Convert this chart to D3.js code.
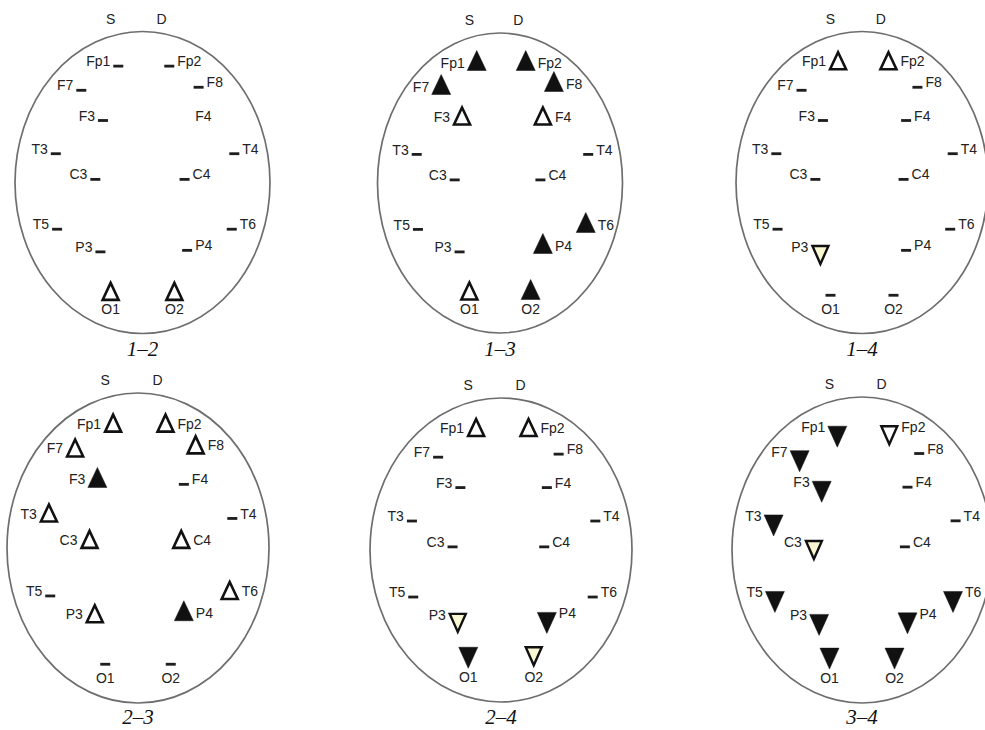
<!DOCTYPE html>
<html>
<head>
<meta charset="utf-8">
<script src="https://cdn.jsdelivr.net/npm/d3@7/dist/d3.min.js"></script>
<style>
  body { margin: 0; background: #ffffff; }
  svg { display: block; }
</style>
</head>
<body>
<div id="chart"></div>
<script>
// Electrode sites and their normalized place on the head outline.
const electrodes = ["Fp1", "Fp2", "F7", "F8", "F3", "F4", "T3", "T4", "C3", "C4", "T5", "T6", "P3", "P4", "O1", "O2"];
const electrodeX = [-0.19, 0.21, -0.48, 0.44, -0.31, 0.35, -0.68, 0.72, -0.37, 0.33, -0.67, 0.70, -0.33, 0.35, -0.25, 0.25];
const electrodeY = [-0.77, -0.77, -0.61, -0.63, -0.41, -0.41, -0.19, -0.19, -0.02, -0.02, 0.31, 0.31, 0.46, 0.45, 0.87, 0.87];

// Pairwise comparisons, one head per comparison.
// "-" no change, "o" open up, "u" filled up, "d" filled down, "y" pale down, "w" open down, "" nothing
const comparisons = ["1–2", "1–3", "1–4", "2–3", "2–4", "3–4"];
const marks12 = ["-", "-", "-", "-", "-", "", "-", "-", "-", "-", "-", "-", "-", "-", "o", "o"];
const marks13 = ["u", "u", "u", "u", "o", "o", "-", "-", "-", "-", "-", "u", "-", "u", "o", "u"];
const marks14 = ["o", "o", "-", "-", "-", "-", "-", "-", "-", "-", "-", "-", "y", "-", "-", "-"];
const marks23 = ["o", "o", "o", "o", "u", "-", "o", "-", "o", "o", "-", "o", "o", "u", "-", "-"];
const marks24 = ["o", "o", "-", "-", "-", "-", "-", "-", "-", "-", "-", "-", "y", "d", "d", "y"];
const marks34 = ["d", "w", "d", "-", "d", "-", "d", "-", "y", "-", "d", "d", "d", "d", "d", "d"];
const panelMarks = [marks12, marks13, marks14, marks23, marks24, marks34];

const WIDTH = 985;
const HEIGHT = 730;

const panels = [
    { cx: 142.5, cy: 182.5, rx: 127.5, ry: 151, titleY: 356 },
    { cx: 500, cy: 183, rx: 122.5, ry: 150, titleY: 356 },
    { cx: 862, cy: 182.5, rx: 126, ry: 151, titleY: 356 },
    { cx: 138, cy: 548, rx: 131, ry: 155, titleY: 724 },
    { cx: 501, cy: 550, rx: 131, ry: 152, titleY: 724 },
    { cx: 862, cy: 550, rx: 130, ry: 153, titleY: 724 }
];

const sideOf = name => name.startsWith("O") ? "bottom" : (+name.slice(-1) % 2 ? "left" : "right");

const triangle = d3.line();

const svg = d3.select("#chart")
    .append("svg")
    .attr("width", WIDTH)
    .attr("height", HEIGHT)
    .attr("viewBox", `0 0 ${WIDTH} ${HEIGHT}`);

const drawHead = (layout, marks, title) => {
    const x = d3.scaleLinear().domain([-1, 1]).range([layout.cx - layout.rx, layout.cx + layout.rx]);
    const y = d3.scaleLinear().domain([-1, 1]).range([layout.cy - layout.ry, layout.cy + layout.ry]);

    const g = svg.append("g");

    g.append("ellipse")
        .attr("cx", x(0))
        .attr("cy", y(0))
        .attr("rx", x(1) - x(0))
        .attr("ry", y(1) - y(0))
        .attr("fill", "none")
        .attr("stroke", "#6e6e6e")
        .attr("stroke-width", 1.7);

    // Left / right hemisphere labels above the head.
    g.selectAll("text.side")
        .data([["S", -0.25], ["D", 0.15]])
        .join("text")
        .attr("class", "side")
        .attr("x", d => x(d[1]))
        .attr("y", y(-1) - 8)
        .attr("text-anchor", "middle")
        .style("font-family", "'Liberation Sans', Arial, sans-serif")
        .style("font-size", "14px")
        .style("fill", "#222")
        .text(d => d[0]);

    const sites = electrodes.map((name, i) => ({
        name,
        px: x(electrodeX[i]),
        py: y(electrodeY[i]),
        side: sideOf(name),
        mark: marks[i]
    }));

    sites.forEach(s => {
        const bottom = s.side === "bottom";
        const dir = s.side === "left" ? 1 : -1;
        // marker centre sits on the electrode point, label beside it
        if (s.mark === "-") {
            g.append("rect")
                .attr("x", s.px - 5)
                .attr("y", bottom ? s.py - 20 : s.py - 1.5)
                .attr("width", 10)
                .attr("height", 2.8)
                .attr("fill", "#1e1e1e");
        } else if (s.mark === "u" || s.mark === "o") {
            const base = bottom ? s.py - 14 : s.py + 3;
            const open = s.mark === "o";
            const h = open ? 17 : 20;
            const w = open ? 8 : 9.5;
            g.append("path")
                .attr("d", triangle([[s.px - w, base], [s.px + w, base], [s.px, base - h]]) + "Z")
                .attr("fill", open ? "#ffffff" : "#111")
                .attr("stroke", "#111")
                .attr("stroke-width", open ? 2.6 : 0.5)
                .attr("stroke-linejoin", "miter");
        } else if (s.mark === "d" || s.mark === "y" || s.mark === "w") {
            const top = bottom ? s.py - 35 : s.py - 6;
            const filled = s.mark === "d";
            const h = filled ? 21 : 18;
            const w = filled ? 9.5 : 8;
            g.append("path")
                .attr("d", triangle([[s.px - w, top], [s.px + w, top], [s.px, top + h]]) + "Z")
                .attr("fill", filled ? "#111" : (s.mark === "y" ? "#fbf7d2" : "#ffffff"))
                .attr("stroke", "#111")
                .attr("stroke-width", filled ? 0.5 : 2.4)
                .attr("stroke-linejoin", "miter");
        }

        const gap = s.mark === "-" || s.mark === "" ? 8 : 12;
        g.append("text")
            .attr("x", bottom ? s.px : s.px - dir * gap)
            .attr("y", s.py)
            .attr("text-anchor", bottom ? "middle" : (s.side === "left" ? "end" : "start"))
            .style("font-family", "'Liberation Sans', Arial, sans-serif")
            .style("font-size", "14px")
            .style("fill", "#222")
            .text(s.name);
    });

    g.append("text")
        .attr("x", x(0))
        .attr("y", layout.titleY)
        .attr("text-anchor", "middle")
        .style("font-family", "'Liberation Serif', 'Times New Roman', serif")
        .style("font-style", "italic")
        .style("font-size", "21px")
        .style("fill", "#111")
        .text(title);
};

comparisons.forEach((title, i) => drawHead(panels[i], panelMarks[i], title));
</script>
</body>
</html>
